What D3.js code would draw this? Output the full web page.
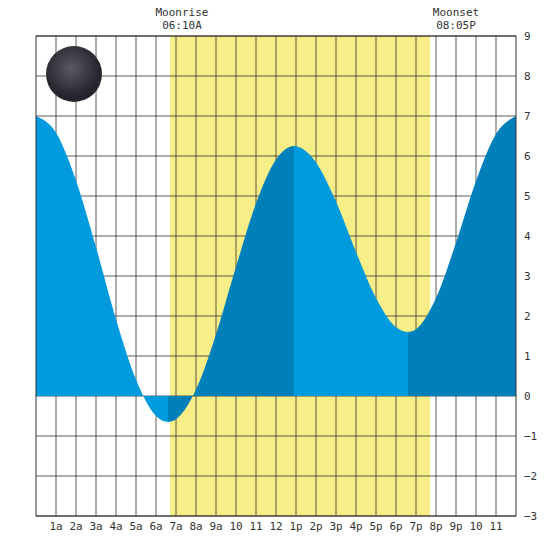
<!DOCTYPE html>
<html><head><meta charset="utf-8">
<script src="https://cdn.jsdelivr.net/npm/d3@7"></script>
<style>body{margin:0;background:#fff}text{font-family:"DejaVu Sans Mono",monospace;font-size:11px;fill:#333}</style>
</head><body><div id="chart"></div>
<script>
var hours = [0,1,2,3,4,5,6,6.6,7,8,9,10,11,12,12.9,14,15,16,17,18,18.6,19,20,21,22,23,24];
var heights = [7.0,6.58,5.39,3.72,1.92,0.41,-0.5,-0.65,-0.58,0.16,1.54,3.23,4.81,5.91,6.25,5.84,4.86,3.6,2.45,1.72,1.6,1.67,2.45,3.83,5.37,6.55,7.0];
var extremes = [0, 6.6, 12.9, 18.6, 24];
var sunrise = 6.7, sunset = 19.7;
var xLabels = ["1a","2a","3a","4a","5a","6a","7a","8a","9a","10","11","12","1p","2p","3p","4p","5p","6p","7p","8p","9p","10","11"];
var yTicks = [-3,-2,-1,0,1,2,3,4,5,6,7,8,9];
var moonEvents = [{label:"Moonrise", time:"06:10A", x:7.3}, {label:"Moonset", time:"08:05P", x:21}];

var w = 550, h = 550;
var pLeft = 36, pRight = 516, pTop = 36, pBottom = 516;
var svg = d3.select("#chart").append("svg").attr("width", w).attr("height", h);
var x = d3.scaleLinear().domain([0,24]).range([pLeft,pRight]);
var y = d3.scaleLinear().domain([-3,9]).range([pBottom,pTop]);

svg.append("rect").attr("x", x(sunrise)).attr("y", pTop)
    .attr("width", x(sunset)-x(sunrise)).attr("height", pBottom-pTop).attr("fill", "#f7ee88");

// grid
for (var i = 1; i < 24; i++) {
    svg.append("line").attr("x1", x(i)).attr("x2", x(i)).attr("y1", pTop).attr("y2", pBottom)
        .attr("stroke", "#333").attr("stroke-width", 0.8);
}
yTicks.forEach(function(v) {
    svg.append("line").attr("x1", pLeft).attr("x2", pRight).attr("y1", y(v)).attr("y2", y(v))
        .attr("stroke", "#333").attr("stroke-width", 0.8);
});

var data = hours.map(function(t, i) { return {t:t, v:heights[i]}; });
var area = d3.area().curve(d3.curveMonotoneX)
    .x(function(d) { return x(d.t); }).y0(y(0)).y1(function(d) { return y(d.v); });

for (var k = 0; k < extremes.length-1; k++) {
    var id = "clip" + k;
    svg.append("clipPath").attr("id", id).append("rect")
        .attr("x", x(extremes[k])).attr("y", 0)
        .attr("width", x(extremes[k+1])-x(extremes[k])).attr("height", h);
    svg.append("path").datum(data).attr("d", area)
        .attr("clip-path", "url(#" + id + ")")
        .attr("fill", k % 2 === 0 ? "#009ade" : "#0080bb");
}

svg.append("rect").attr("x", pLeft).attr("y", pTop).attr("width", pRight-pLeft).attr("height", pBottom-pTop)
    .attr("fill", "none").attr("stroke", "#333");

xLabels.forEach(function(l, i) {
    svg.append("text").attr("x", x(i+1)).attr("y", 530).attr("text-anchor", "middle").text(l);
});
yTicks.forEach(function(v) {
    svg.append("text").attr("x", 524).attr("y", y(v)+4).text(v < 0 ? "\u2212" + (-v) : v);
});
moonEvents.forEach(function(m) {
    svg.append("text").attr("x", x(m.x)).attr("y", 16).attr("text-anchor", "middle").text(m.label);
    svg.append("text").attr("x", x(m.x)).attr("y", 29).attr("text-anchor", "middle").text(m.time);
});

// moon
var grad = svg.append("radialGradient").attr("id", "moon").attr("cx", "45%").attr("cy", "40%");
grad.append("stop").attr("offset", "0%").attr("stop-color", "#5a5a66");
grad.append("stop").attr("offset", "100%").attr("stop-color", "#25252d");
svg.append("circle").attr("cx", 74).attr("cy", 74).attr("r", 28).attr("fill", "url(#moon)");
</script></body></html>
